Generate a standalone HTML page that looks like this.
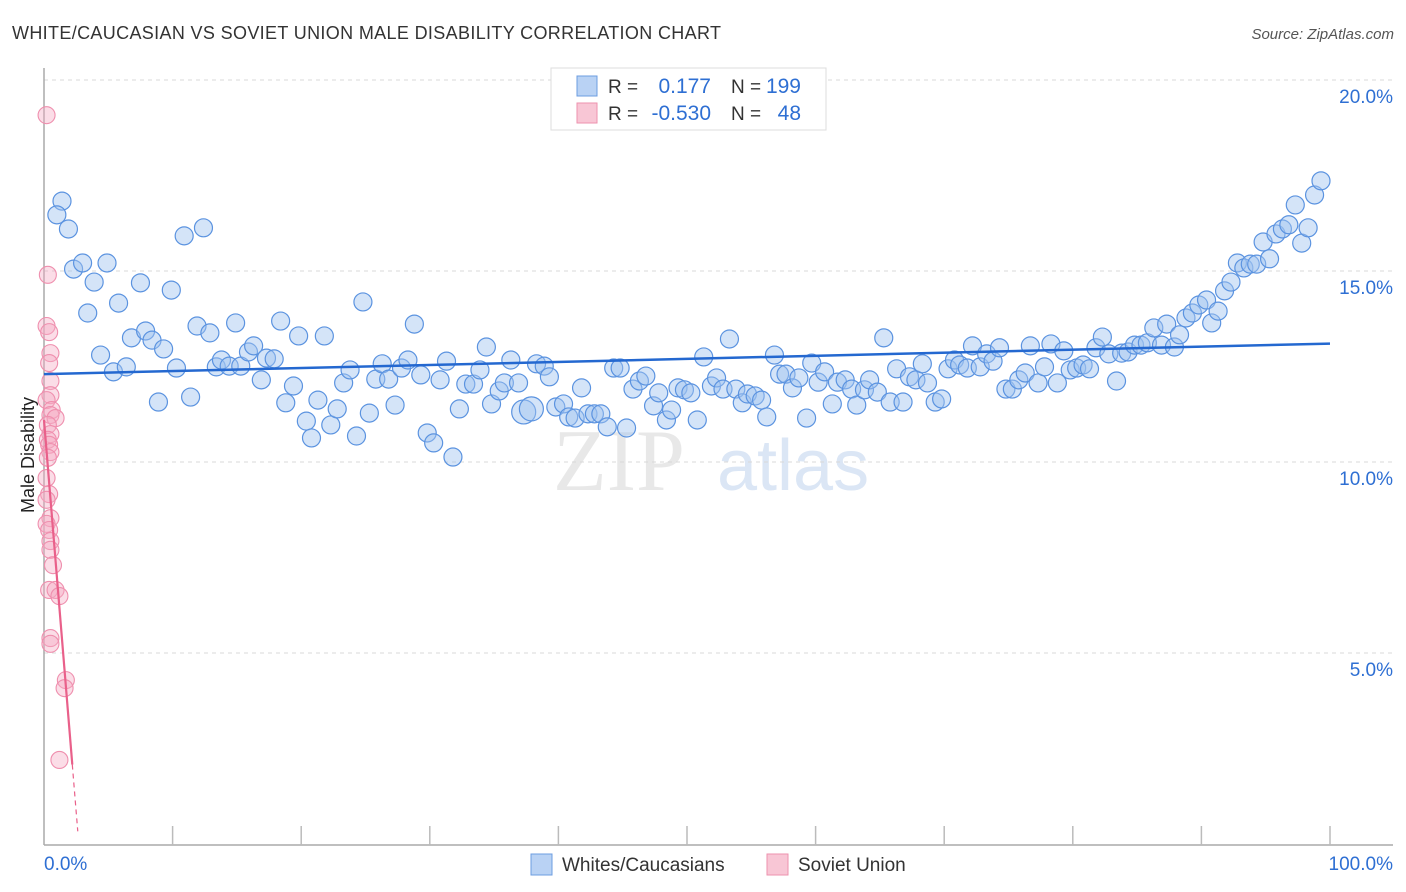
<!DOCTYPE html>
<html><head><meta charset="utf-8">
<style>
body{margin:0;background:#fff;font-family:"Liberation Sans",sans-serif;}
#wrap{position:relative;width:1406px;height:892px;overflow:hidden;}
</style></head>
<body>
<div id="wrap">
<svg id="svg" width="1406" height="892" xmlns="http://www.w3.org/2000/svg">
<text x="12" y="39" font-size="18" fill="#333" textLength="709" lengthAdjust="spacing">WHITE/CAUCASIAN VS SOVIET UNION MALE DISABILITY CORRELATION CHART</text>
<text x="1394" y="39" font-size="15" fill="#555" font-style="italic" text-anchor="end">Source: ZipAtlas.com</text>
<g>
<text x="553" y="490" font-size="88" fill="#e8e8e8" font-family="Liberation Serif,serif">ZIP</text>
<text x="717" y="490" font-size="72" fill="#dbe6f5">atlas</text>
</g>
<g id="grid"></g>
<g id="axes"></g>
<g id="pts"></g>
<g id="trends"></g>
<text transform="translate(34,455) rotate(-90)" font-size="18" fill="#222" text-anchor="middle">Male Disability</text>
<g>
<rect x="551" y="68" width="275" height="62" fill="#fff" stroke="#ddd"/>
<rect x="577" y="76" width="20" height="20" fill="#b9d2f4" stroke="#6c9de0"/>
<rect x="577" y="103" width="20" height="20" fill="#f8c6d5" stroke="#ee92ae"/>
<text x="608" y="93" font-size="19" fill="#333">R =</text>
<text x="711" y="93" font-size="21" fill="#2e6fd3" text-anchor="end">0.177</text>
<text x="731" y="93" font-size="19" fill="#333">N =</text>
<text x="801" y="93" font-size="21" fill="#2e6fd3" text-anchor="end">199</text>
<text x="608" y="120" font-size="19" fill="#333">R =</text>
<text x="711" y="120" font-size="21" fill="#2e6fd3" text-anchor="end">-0.530</text>
<text x="731" y="120" font-size="19" fill="#333">N =</text>
<text x="801" y="120" font-size="21" fill="#2e6fd3" text-anchor="end">48</text>
</g>
<g>
<rect x="531" y="854" width="21" height="21" fill="#b9d2f4" stroke="#6c9de0"/>
<text x="562" y="871" font-size="19" fill="#333">Whites/Caucasians</text>
<rect x="767" y="854" width="21" height="21" fill="#f8c6d5" stroke="#ee92ae"/>
<text x="798" y="871" font-size="19" fill="#333">Soviet Union</text>
</g>
</svg>
</div>
<script>
const yTicks=[5,10,15,20];
const yTickLabels=["5.0%","10.0%","15.0%","20.0%"];
const xTicks=[0,10,20,30,40,50,60,70,80,90,100];
const blueX=[1.4,1.0,1.9,2.3,3.0,4.9,3.9,3.4,4.4,5.4,5.8,6.4,6.8,7.9,8.4,7.5,9.3,8.9,9.9,10.3,10.9,11.4,12.4,11.9,12.9,13.4,13.8,14.4,14.9,15.3,15.9,16.3,16.9,17.3,17.9,18.4,18.8,19.4,19.8,20.4,20.8,21.3,21.8,22.3,22.8,23.3,23.8,24.3,24.8,25.3,25.8,26.3,26.8,27.3,27.8,28.3,28.8,29.3,29.8,30.3,30.8,31.3,31.8,32.3,32.8,33.4,33.9,34.4,34.8,35.4,35.8,36.3,36.9,37.3,37.9,38.3,38.9,39.3,39.8,40.4,40.8,41.3,41.8,42.3,42.8,43.3,43.8,44.3,44.8,45.3,45.8,46.3,46.8,47.4,47.8,48.4,48.8,49.3,49.8,50.3,50.8,51.3,51.9,52.3,52.8,53.3,53.8,54.3,54.7,55.3,55.8,56.2,56.8,57.2,57.7,58.2,58.7,59.3,59.7,60.2,60.7,61.3,61.7,62.3,62.8,63.2,63.8,64.2,64.8,65.3,65.8,66.3,66.8,67.3,67.8,68.3,68.7,69.3,69.8,70.3,70.8,71.2,71.8,72.2,72.8,73.3,73.8,74.3,74.8,75.3,75.8,76.3,76.7,77.3,77.8,78.3,78.8,79.3,79.8,80.3,80.8,81.3,81.8,82.3,82.8,83.4,83.8,84.3,84.8,85.3,85.8,86.3,86.9,87.3,87.9,88.3,88.8,89.3,89.8,90.4,90.8,91.3,91.8,92.3,92.8,93.3,93.8,94.3,94.8,95.3,95.8,96.3,96.8,97.3,97.8,98.3,98.8,99.3];
const blueY=[16.83,16.47,16.10,15.05,15.21,15.21,14.71,13.90,12.80,12.36,14.16,12.49,13.25,13.43,13.19,14.69,12.96,11.57,14.50,12.46,15.92,11.70,16.13,13.56,13.38,12.49,12.67,12.51,13.64,12.51,12.88,13.04,12.15,12.72,12.70,13.69,11.55,11.99,13.30,11.07,10.63,11.62,13.30,10.97,11.39,12.07,12.41,10.68,14.19,11.28,12.17,12.57,12.17,11.49,12.46,12.67,13.61,12.28,10.76,10.50,12.15,12.64,10.13,11.39,12.04,12.04,12.41,13.01,11.52,11.86,12.07,12.67,12.07,11.31,11.39,12.57,12.51,12.23,11.44,11.52,11.18,11.15,11.94,11.26,11.26,11.26,10.92,12.46,12.46,10.89,11.91,12.12,12.25,11.47,11.81,11.10,11.36,11.94,11.89,11.81,11.10,12.75,11.99,12.20,11.91,13.22,11.91,11.55,11.78,11.73,11.62,11.18,12.80,12.30,12.30,11.94,12.20,11.15,12.59,12.09,12.36,11.52,12.09,12.15,11.91,11.49,11.89,12.15,11.83,13.25,11.57,12.44,11.57,12.23,12.15,12.57,12.07,11.57,11.65,12.44,12.67,12.54,12.46,13.04,12.49,12.83,12.64,12.99,11.91,11.91,12.15,12.33,13.04,12.07,12.49,13.09,12.07,12.91,12.41,12.46,12.54,12.44,12.99,13.27,12.83,12.12,12.85,12.88,13.06,13.06,13.12,13.51,13.06,13.61,13.01,13.33,13.77,13.90,14.11,14.24,13.64,13.95,14.48,14.71,15.21,15.08,15.18,15.18,15.76,15.32,15.97,16.10,16.21,16.73,15.73,16.13,16.99,17.36];
const pinkX=[0.2,0.3,0.2,0.4,0.5,0.4,0.5,0.5,0.2,0.6,0.5,0.9,0.3,0.5,0.3,0.4,0.5,0.3,0.2,0.4,0.2,0.5,0.2,0.4,0.5,0.5,0.7,0.4,0.9,1.2,0.5,0.5,1.7,1.6,1.2];
const pinkY=[19.08,14.90,13.56,13.40,12.85,12.59,12.12,11.75,11.62,11.36,11.23,11.15,10.97,10.73,10.58,10.45,10.26,10.11,9.58,9.16,9.01,8.53,8.38,8.22,7.93,7.70,7.30,6.65,6.65,6.49,5.39,5.24,4.29,4.08,2.20];
const blueTrend=[12.3,13.1];
const pinkTrend=[11.1,-4.1];
const NS="http://www.w3.org/2000/svg";
const X=v=>44+v*12.86, Y=v=>844-v*38.2;
function mk(tag,attrs,parent){const e=document.createElementNS(NS,tag);for(const k in attrs)e.setAttribute(k,attrs[k]);parent.appendChild(e);return e;}
const grid=document.getElementById('grid'),axes=document.getElementById('axes'),pts=document.getElementById('pts'),tr=document.getElementById('trends');
yTicks.forEach((t,i)=>{
 const l=mk('line',{x1:44,x2:1393,y1:Y(t),y2:Y(t),stroke:'#d8d8d8','stroke-dasharray':'4,4'},grid);
 
 
 const tx=mk('text',{x:1393,y:Y(t)+23,'font-size':19,fill:'#2e6fd3','text-anchor':'end'},axes);
 tx.textContent=yTickLabels[i];
 
 
});
const a1=mk('line',{x1:44,x2:44,y1:68,y2:845,stroke:'#aaa','stroke-width':1.5},axes);


const a2=mk('line',{x1:44,x2:1393,y1:845,y2:845,stroke:'#aaa','stroke-width':1.5},axes);


xTicks.forEach(t=>{if(t===0)return;
 const l=mk('line',{x1:X(t),x2:X(t),y1:826,y2:845,stroke:'#bbb','stroke-width':1.5},axes);
 
 
});
const xl0=mk('text',{x:44,y:870,'font-size':19,fill:'#2e6fd3'},axes);xl0.textContent='0.0%';


const xl1=mk('text',{x:1393,y:870,'font-size':19,fill:'#2e6fd3','text-anchor':'end'},axes);xl1.textContent='100.0%';


blueX.forEach((v,i)=>{
 const big=(i===73||i===74);
 const c=mk('circle',{cx:X(v),cy:Y(blueY[i]),r:big?12:9,fill:'rgba(160,195,240,0.45)',stroke:'#5b93e0','stroke-width':1.2},pts);
 
 
});
pinkX.forEach((v,i)=>{
 const c=mk('circle',{cx:X(v),cy:Y(pinkY[i]),r:8.5,fill:'rgba(245,170,195,0.4)',stroke:'#ef8fae','stroke-width':1.1},pts);
 
 
});
const bt=mk('line',{x1:X(0),y1:Y(blueTrend[0]),x2:X(100),y2:Y(blueTrend[1]),stroke:'#2468d0','stroke-width':2.5},tr);


const pe=2.2, pd=(0-pinkTrend[0])/pinkTrend[1]*0.97;
const pt=mk('line',{x1:X(0),y1:Y(pinkTrend[0]),x2:X(pe),y2:Y(pinkTrend[0]+pinkTrend[1]*pe),stroke:'#e9608a','stroke-width':2.2},tr);


const pt2=mk('line',{x1:X(pe),y1:Y(pinkTrend[0]+pinkTrend[1]*pe),x2:X(pd),y2:Y(pinkTrend[0]+pinkTrend[1]*pd),stroke:'#e9608a','stroke-width':1.2,'stroke-dasharray':'5,4'},tr);


</script>
</body></html>
